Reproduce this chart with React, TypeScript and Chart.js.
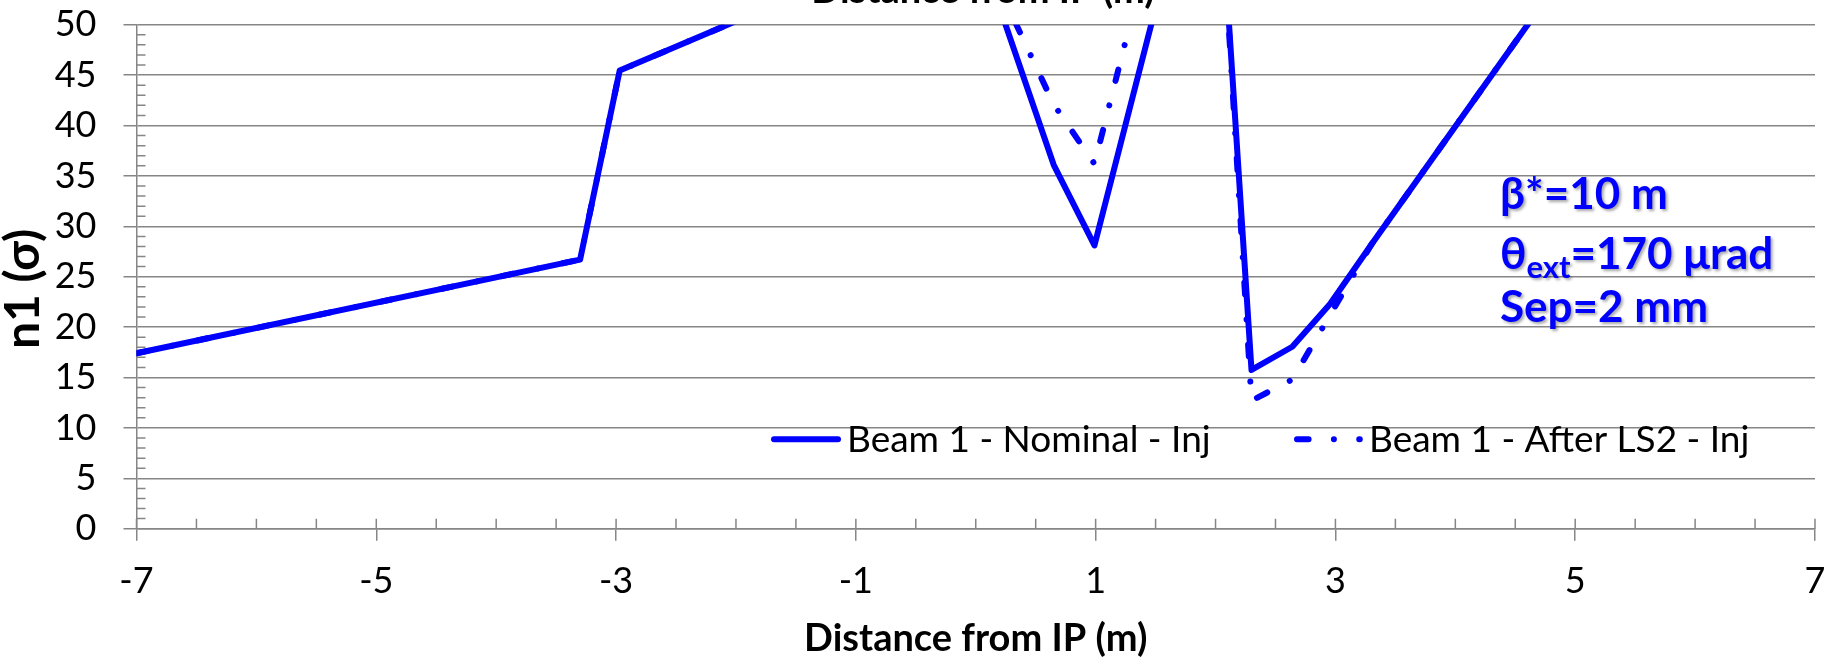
import React, { useEffect, useRef } from "react";
import { Chart, registerables } from "chart.js";

Chart.register(...registerables);

// ---- Data ----
const seriesLabels = ["Beam 1 - Nominal - Inj", "Beam 1 - After LS2 - Inj"];
const nominalX = [-7, -3.3, -2.97, -1.0, 0, 0.65, 0.99, 1.55, 2.05, 2.3, 2.64, 2.955, 3.3, 5.5];
const nominalY = [17.4, 26.7, 45.45, 55.4, 58.6, 36.1, 28.1, 54.0, 61.5, 15.75, 18.05, 22.3, 28.2, 65.0];
const afterLS2X = [-7, -3.3, -2.97, -1.0, 0, 0.65, 0.99, 1.55, 2.05, 2.3, 2.64, 2.955, 3.3, 5.5];
const afterLS2Y = [17.4, 26.7, 45.45, 55.4, 58.6, 42.1, 36.2, 62.4, 61.5, 12.7, 14.8, 21.2, 28.2, 65.0];

const xAxisTitle = "Distance from IP (m)";
const yAxisTitle = "n1 (σ)";
const xRange = [-7, 7];
const xMajorStep = 2;
const xMinorStep = 0.5;
const yRange = [0, 50];
const yMajorStep = 5;
const yMinorStep = 1;

const noteLine1 = "β*=10 m";
const noteLine2Main = "θ";
const noteLine2Sub = "ext";
const noteLine2Rest = "=170 μrad";
const noteLine3 = "Sep=2 mm";

const BLUE = "#0000ff";
const GRID = "#868686";
const FONT = 'Lato, "Noto Sans", "DejaVu Sans", sans-serif';

const minorTicksPlugin = {
  id: "minorTicks",
  beforeDatasetsDraw(chart: any) {
    const { ctx, chartArea, scales } = chart;
    const x = scales.x;
    const y = scales.y;
    ctx.save();
    ctx.strokeStyle = GRID;
    ctx.lineWidth = 1.5;
    ctx.beginPath();
    for (let v = yRange[0]; v <= yRange[1] + 1e-9; v += yMinorStep) {
      if (Math.abs(v % yMajorStep) < 1e-9) continue;
      const py = y.getPixelForValue(v);
      ctx.moveTo(chartArea.left, py);
      ctx.lineTo(chartArea.left + 9, py);
    }
    for (let v = xRange[0]; v <= xRange[1] + 1e-9; v += xMinorStep) {
      const px = x.getPixelForValue(v);
      ctx.moveTo(px, chartArea.bottom);
      ctx.lineTo(px, chartArea.bottom - 10);
    }
    ctx.stroke();
    ctx.restore();
  },
};

const overlayPlugin = {
  id: "overlay",
  afterDraw(chart: any) {
    const { ctx, chartArea } = chart;
    ctx.save();

    // Legend (inside plot)
    const legendPos = [
      { s0: 774, s1: 838, tx: 847 },
      { s0: 1297, s1: 1359.8, tx: 1369 },
    ];
    const legendY = 439.3;
    chart.data.datasets.forEach((ds: any, i: number) => {
      const p = legendPos[i];
      ctx.save();
      ctx.strokeStyle = ds.borderColor;
      ctx.lineWidth = ds.borderWidth;
      ctx.lineCap = "round";
      ctx.setLineDash(ds.borderDash || []);
      ctx.beginPath();
      ctx.moveTo(p.s0, legendY);
      ctx.lineTo(p.s1, legendY);
      ctx.stroke();
      ctx.restore();
      ctx.fillStyle = "#000";
      ctx.font = `37px ${FONT}`;
      ctx.textAlign = "left";
      ctx.textBaseline = "alphabetic";
      ctx.fillText(ds.label, p.tx, 452);
    });

    // Axis titles
    ctx.fillStyle = "#000";
    ctx.font = `bold 38px ${FONT}`;
    ctx.textAlign = "center";
    ctx.textBaseline = "alphabetic";
    ctx.fillText(xAxisTitle, (chartArea.left + chartArea.right) / 2, 651);
    ctx.fillText(xAxisTitle, 983, 3);

    ctx.save();
    ctx.translate(39, 289);
    ctx.rotate(-Math.PI / 2);
    ctx.font = `bold 48px ${FONT}`;
    ctx.textAlign = "center";
    ctx.textBaseline = "alphabetic";
    ctx.fillText(yAxisTitle, 0, 0);
    ctx.restore();

    // Annotation text
    ctx.save();
    ctx.fillStyle = BLUE;
    ctx.shadowColor = "rgba(0,0,0,0.35)";
    ctx.shadowOffsetX = 2;
    ctx.shadowOffsetY = 2;
    ctx.shadowBlur = 3;
    ctx.textAlign = "left";
    ctx.textBaseline = "alphabetic";
    const x0 = 1500;
    ctx.font = `bold 44px ${FONT}`;
    ctx.fillText(noteLine1, x0, 209);
    let cx = x0;
    ctx.fillText(noteLine2Main, cx, 269);
    cx += ctx.measureText(noteLine2Main).width;
    ctx.font = `bold 31px ${FONT}`;
    ctx.fillText(noteLine2Sub, cx, 278);
    cx += ctx.measureText(noteLine2Sub).width;
    ctx.font = `bold 44px ${FONT}`;
    ctx.fillText(noteLine2Rest, cx, 269);
    ctx.fillText(noteLine3, x0, 322);
    ctx.restore();

    ctx.restore();
  },
};

export default function App() {
  const canvasRef = useRef<HTMLCanvasElement | null>(null);

  useEffect(() => {
    if (!canvasRef.current) return;
    const toPts = (xs: number[], ys: number[]) => xs.map((x, i) => ({ x, y: ys[i] }));
    const chart = new Chart(canvasRef.current, {
      type: "line",
      data: {
        datasets: [
          {
            label: seriesLabels[0],
            data: toPts(nominalX, nominalY),
            borderColor: BLUE,
            borderWidth: 6,
            pointRadius: 0,
            fill: false,
            tension: 0,
            borderJoinStyle: "round",
            borderCapStyle: "round",
          },
          {
            label: seriesLabels[1],
            data: toPts(afterLS2X, afterLS2Y),
            borderColor: BLUE,
            borderWidth: 6,
            borderDash: [11.6, 25.3, 0.01, 25.3],
            pointRadius: 0,
            fill: false,
            tension: 0,
            borderJoinStyle: "round",
            borderCapStyle: "round",
          },
        ],
      },
      options: {
        animation: false,
        responsive: false,
        devicePixelRatio: 1,
        parsing: false,
        layout: { padding: { top: 24.7, right: 26, left: 0, bottom: 0 } },
        plugins: {
          legend: { display: false },
          tooltip: { enabled: false },
        },
        scales: {
          x: {
            type: "linear",
            min: xRange[0],
            max: xRange[1],
            ticks: {
              stepSize: xMajorStep,
              autoSkip: false,
              maxRotation: 0,
              padding: 19,
              color: "#000",
              font: { family: FONT, size: 36 },
              callback: (v: any) => String(v),
            },
            grid: { drawOnChartArea: false, drawTicks: true, tickLength: 12, color: GRID, lineWidth: 1.5 },
            border: { color: GRID, width: 1.5 },
            afterFit: (s: any) => {
              s.height = 130.3;
              s.paddingLeft = 0;
              s.paddingRight = 0;
            },
          },
          y: {
            type: "linear",
            min: yRange[0],
            max: yRange[1],
            ticks: {
              stepSize: yMajorStep,
              padding: 27,
              color: "#000",
              font: { family: FONT, size: 36 },
              callback: (v: any) => String(v),
            },
            grid: { drawOnChartArea: true, drawTicks: true, tickLength: 13, color: GRID, lineWidth: 1.5 },
            border: { color: GRID, width: 1.5 },
            afterFit: (s: any) => {
              s.width = 136.5;
              s.paddingTop = 0;
              s.paddingBottom = 0;
            },
          },
        },
      },
      plugins: [minorTicksPlugin, overlayPlugin],
    } as any);
    return () => chart.destroy();
  }, []);

  return (
    <div style={{ position: "fixed", left: 0, top: 0, width: 1841, height: 659, background: "#fff" }}>
      <canvas ref={canvasRef} width={1841} height={659} style={{ display: "block", width: 1841, height: 659 }} />
    </div>
  );
}
